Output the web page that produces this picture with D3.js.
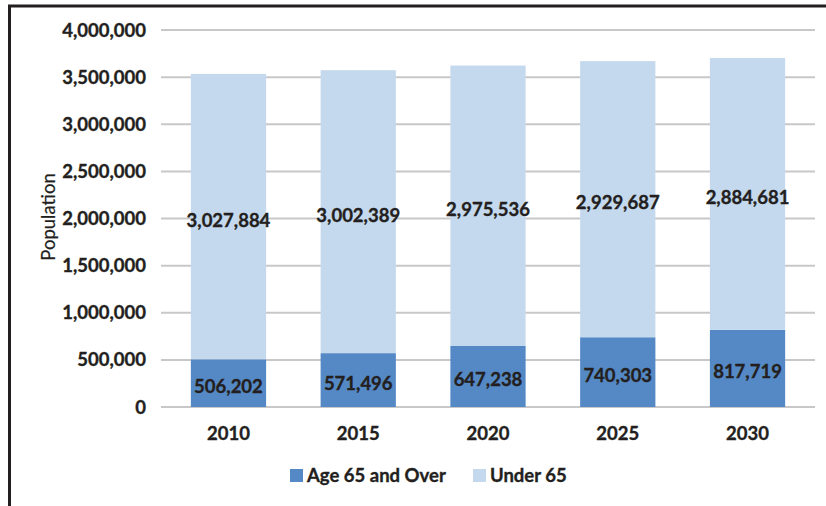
<!DOCTYPE html>
<html>
<head>
<meta charset="utf-8">
<script src="https://cdn.jsdelivr.net/npm/d3@7"></script>
<style>
  body { margin: 0; background: #fff; }
  svg text { font-family: Lato, "Open Sans", sans-serif; font-weight: bold; fill: #231f20; stroke: #231f20; stroke-width: 0.35px; }
</style>
</head>
<body>
<div id="chart"></div>
<script>
// data
const years = ["2010", "2015", "2020", "2025", "2030"];
const over65 = [506202, 571496, 647238, 740303, 817719];
const under65 = [3027884, 3002389, 2975536, 2929687, 2884681];
const yTicks = [0, 500000, 1000000, 1500000, 2000000, 2500000, 3000000, 3500000, 4000000];
const seriesNames = ["Age 65 and Over", "Under 65"];
const colors = ["#5589c6", "#c5d9ee"];

const width = 826, height = 506;

const svg = d3.select("#chart")
    .append("svg")
    .attr("width", width)
    .attr("height", height);

// frame (only top + left show in the crop)
svg.append("path")
    .attr("d", "M9.5,506 V6 H826")
    .attr("fill", "none")
    .attr("stroke", "#231f20")
    .attr("stroke-width", 3);

const x = d3.scaleBand()
    .domain(years)
    .range([161, 815])
    .paddingInner(0.42)
    .paddingOuter(0.23);

const y = d3.scaleLinear()
    .domain([0, 4000000])
    .range([407, 30]);

// gridlines
svg.append("g")
    .selectAll("line")
    .data(yTicks)
    .enter().append("line")
    .attr("x1", 161)
    .attr("x2", 815)
    .attr("y1", d => y(d))
    .attr("y2", d => y(d))
    .attr("stroke", "#c8c8c8")
    .attr("stroke-width", 2);

// y tick labels
const fmt = d3.format(",");
svg.append("g")
    .selectAll("text")
    .data(yTicks)
    .enter().append("text")
    .attr("x", 146)
    .attr("y", d => y(d) + 6.5)
    .attr("text-anchor", "end")
    .attr("font-size", "18.5px")
    .text(d => fmt(d));

// stacked bars
const rows = years.map((yr, i) => ({ year: yr, over: over65[i], under: under65[i] }));
const stack = d3.stack().keys(["over", "under"])(rows);

const layers = svg.append("g")
    .selectAll("g")
    .data(stack)
    .enter().append("g")
    .attr("fill", (d, i) => colors[i]);

layers.selectAll("rect")
    .data(d => d)
    .enter().append("rect")
    .attr("x", d => x(d.data.year))
    .attr("y", d => y(d[1]))
    .attr("width", x.bandwidth())
    .attr("height", d => y(d[0]) - y(d[1]));

// value labels, roughly centred in each segment
layers.selectAll("text")
    .data(d => d)
    .enter().append("text")
    .attr("x", d => x(d.data.year) + x.bandwidth() / 2)
    .attr("y", d => (y(d[0]) + y(d[1])) / 2 + 10)
    .attr("text-anchor", "middle")
    .attr("font-size", "18.5px")
    .text(d => fmt(d[1] - d[0]));

// x labels
svg.append("g")
    .selectAll("text")
    .data(years)
    .enter().append("text")
    .attr("x", d => x(d) + x.bandwidth() / 2)
    .attr("y", 439.5)
    .attr("text-anchor", "middle")
    .attr("font-size", "18.5px")
    .text(d => d);

// axis title
svg.append("text")
    .attr("transform", "translate(55,217) rotate(-90)")
    .attr("text-anchor", "middle")
    .attr("font-size", "18.5px")
    .style("font-weight", "normal")
    .style("stroke-width", "0.2px")
    .text("Population");

// legend
const legendX = [290, 473];
const legend = svg.append("g")
    .selectAll("g")
    .data(seriesNames)
    .enter().append("g")
    .attr("transform", (d, i) => "translate(" + legendX[i] + ",469)");

legend.append("rect")
    .attr("width", 13)
    .attr("height", 13)
    .attr("fill", (d, i) => colors[i]);

legend.append("text")
    .attr("x", 17)
    .attr("y", 12.5)
    .attr("font-size", "18.5px")
    .text(d => d);
</script>
</body>
</html>
